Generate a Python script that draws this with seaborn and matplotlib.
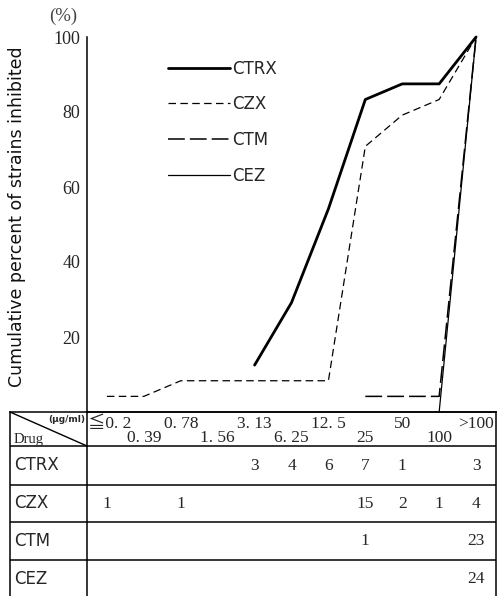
import numpy as np
import pandas as pd
import seaborn as sns
import matplotlib.pyplot as plt

sns.set_theme(style="white")
plt.rcParams['font.family'] = ['Liberation Serif', 'Noto Sans CJK JP', 'DejaVu Sans']

# MIC steps (ug/ml)
concentrations = ["≦0. 2", "0. 39", "0. 78", "1. 56", "3. 13", "6. 25",
                  "12. 5", "25", "50", "100", ">100"]
drugs = ["CTRX", "CZX", "CTM", "CEZ"]

# number of strains inhibited at each concentration
ctrx_counts = [0, 0, 0, 0, 3, 4, 6, 7, 1, 0, 3]
czx_counts = [1, 0, 1, 0, 0, 0, 0, 15, 2, 1, 4]
ctm_counts = [0, 0, 0, 0, 0, 0, 0, 1, 0, 0, 23]
cez_counts = [0, 0, 0, 0, 0, 0, 0, 0, 0, 0, 24]

counts = dict(zip(drugs, [ctrx_counts, czx_counts, ctm_counts, cez_counts]))

# cumulative percentage curves, starting at the first concentration with growth inhibition
rows = []
for d in drugs:
    c = np.asarray(counts[d])
    pct = np.cumsum(c) / c.sum() * 100
    first = int(np.argmax(c > 0))
    if c[first] == c.sum() and first > 0:
        first -= 1
    for i in range(first, len(c)):
        rows.append({"drug": d, "pos": i, "pct": pct[i]})
df = pd.DataFrame(rows)

W, H = 502, 596
fig = plt.figure(figsize=(W / 100, H / 100), dpi=100)

# x scale: one unit per concentration step
x_lo, x_hi = -0.54, 10.54
px_per_unit = (496 - 87) / (x_hi - x_lo)

ax = fig.add_axes([87 / W, (H - 412) / H, (496 - 87) / W, 375 / H])

line_styles = {
    "CTRX": dict(lw=2.0, linestyle="-"),
    "CZX": dict(lw=0.9, linestyle=(0, (6, 3.5))),
    "CTM": dict(lw=1.1, linestyle=(0, (11, 3.3))),
    "CEZ": dict(lw=0.9, linestyle="-"),
}
for d in drugs:
    sns.lineplot(data=df[df["drug"] == d], x="pos", y="pct", ax=ax,
                 color="black", clip_on=False, label=d, **line_styles[d])

ax.set_xlim(x_lo, x_hi)
ax.set_ylim(0, 100)
ax.set_xticks(range(len(concentrations)))
ax.set_xticklabels([])
ax.set_yticks([20, 40, 60, 80, 100])
ax.tick_params(axis="both", direction="out", length=3.5, width=1, color="black",
               labelsize=13, pad=1.5)
ax.tick_params(axis="x", length=3)
for s in ["top", "right"]:
    ax.spines[s].set_visible(False)
for s in ["left", "bottom"]:
    ax.spines[s].set_color("black")
    ax.spines[s].set_linewidth(1.1)
ax.set_xlabel("")
ax.set_ylabel("Cumulative percent of strains inhibited", fontsize=12.5,
              family="DejaVu Sans", color="#111111")
ax.yaxis.set_label_coords(-0.15, 0.52)

leg = ax.legend(loc="upper left", bbox_to_anchor=(0.198, 0.94), frameon=False,
                borderpad=0, borderaxespad=0, handlelength=3.7, handletextpad=0.15,
                labelspacing=1.07, prop={"family": "DejaVu Sans", "size": 12})

fig.text(63 / W, 1 - 16 / H, "(%)", ha="center", va="center", fontsize=13.5,
         color="#444444")

# table of strain counts below the plot
tx_lo = x_lo - (87 - 10) / px_per_unit
ax_t = fig.add_axes([10 / W, 0, 486 / W, 184 / H])
ax_t.set_xlim(tx_lo, x_hi)
ax_t.set_ylim(596, 412)
ax_t.set_xticks([])
ax_t.set_yticks([])
ax_t.set_facecolor("none")
for s in ["top", "left", "right"]:
    ax_t.spines[s].set_visible(True)
    ax_t.spines[s].set_color("black")
    ax_t.spines[s].set_linewidth(1.1)
ax_t.spines["bottom"].set_visible(False)

row_edges = [446, 485, 522, 560, 598]
for yb in row_edges[:-1]:
    ax_t.axhline(yb, color="black", lw=1.1)
ax_t.axvline(x_lo, color="black", lw=1.1)
ax_t.plot([tx_lo, x_lo], [412, row_edges[0]], color="black", lw=1.0)

ax_t.text(x_lo - 2 / px_per_unit, 420, "(μg/ml)", ha="right", va="center",
          fontsize=6.5, fontweight="bold", family="DejaVu Sans")
ax_t.text(tx_lo + 4 / px_per_unit, 439, "Drug", ha="left", va="center", fontsize=10.5)

for i, lab in enumerate(concentrations):
    xoff = 0.08 if i == 0 else 0
    ax_t.text(i + xoff, 424 if i % 2 == 0 else 438, lab, ha="center", va="center",
              fontsize=12.5)

for r, d in enumerate(drugs):
    yc = (row_edges[r] + row_edges[r + 1]) / 2
    ax_t.text(tx_lo + 4 / px_per_unit, yc, d, ha="left", va="center",
              fontsize=12, family="DejaVu Sans")
    for i, n in enumerate(counts[d]):
        if n:
            ax_t.text(i, yc, str(n), ha="center", va="center", fontsize=12.5)

fig.savefig("out.png", dpi=100, facecolor="white")
